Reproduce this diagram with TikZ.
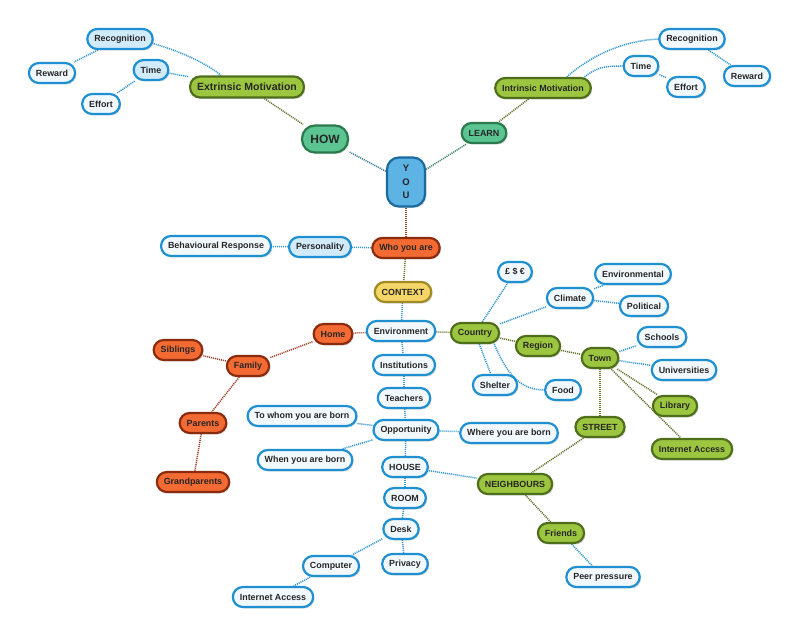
\documentclass[tikz,border=0pt]{standalone}
\usepackage{fontspec}
\setmainfont{Liberation Sans}
\usetikzlibrary{shadows,backgrounds}
\definecolor{bBorder}{HTML}{1E8FD0}
\definecolor{bFill}{HTML}{F2F9FE}
\definecolor{bFillB}{HTML}{D2EBFA}
\definecolor{gFill}{HTML}{9CC63F}
\definecolor{gBorder}{HTML}{4F6E1C}
\definecolor{tFill}{HTML}{5CC491}
\definecolor{tBorder}{HTML}{2B7A4E}
\definecolor{oFill}{HTML}{F46A33}
\definecolor{oBorder}{HTML}{8A2B0E}
\definecolor{yFill}{HTML}{F4D567}
\definecolor{yBorder}{HTML}{A08A22}
\definecolor{uFill}{HTML}{5DB3E4}
\definecolor{uBorder}{HTML}{1B6A9E}
\definecolor{lBlue}{HTML}{3596D0}
\definecolor{lOlive}{HTML}{66742E}
\definecolor{lRed}{HTML}{A0422A}
\definecolor{lTeal}{HTML}{3E8A6A}
\definecolor{lTealB}{HTML}{3F7F9A}
\tikzset{
  base/.style={rectangle, rounded corners=10pt, minimum height=20pt, inner xsep=7pt, inner ysep=0pt,
    line width=2.2pt, font=\fontsize{8.9}{10}\selectfont\bfseries, text=black!85,
    drop shadow={opacity=0.25, shadow xshift=1.5pt, shadow yshift=-1.5pt}},
  bnode/.style={base, draw=bBorder, fill=bFill},
  bnodeB/.style={base, draw=bBorder, fill=bFillB},
  gnode/.style={base, draw=gBorder, fill=gFill},
  tnode/.style={base, draw=tBorder, fill=tFill},
  onode/.style={base, draw=oBorder, fill=oFill},
  ynode/.style={base, draw=yBorder, fill=yFill},
  conn/.style={line width=1.5pt, dash pattern=on 1.1pt off 0.9pt},
  cb/.style={conn, draw=lBlue},
  co/.style={conn, draw=lOlive},
  cr/.style={conn, draw=lRed},
}
\begin{document}
\begin{tikzpicture}[x=1pt,y=-1pt]
\useasboundingbox (0,0) rectangle (800,636);
% top left
\node[bnodeB] (recL) at (120,39) {Recognition};
\node[bnode] (rewL) at (52,73) {Reward};
\node[bnodeB] (timeL) at (151,70) {Time};
\node[bnode] (effL) at (101,104) {Effort};
\node[gnode, font=\fontsize{10.5}{12}\selectfont\bfseries, minimum height=21pt] (extr) at (247,87) {Extrinsic Motivation};
\node[tnode, font=\fontsize{12}{14}\selectfont\bfseries, minimum height=27pt, minimum width=46pt, rounded corners=13pt] (how) at (325,139) {HOW};
% top right
\node[bnode] (recR) at (692,39) {Recognition};
\node[bnode] (timeR) at (641,66) {Time};
\node[bnode] (effR) at (686,87) {Effort};
\node[bnode] (rewR) at (747,76) {Reward};
\node[gnode] (intr) at (543,88) {Intrinsic Motivation};
\node[tnode] (learn) at (484,133) {LEARN};
% you
\node[base, draw=uBorder, fill=uFill, align=center, minimum width=38pt, minimum height=49pt, rounded corners=12pt,
  font=\fontsize{9.5}{13.5}\selectfont\bfseries] (you) at (406,182) {Y\\O\\U};
\node[onode] (who) at (406,248) {Who you are};
\node[bnodeB] (pers) at (320,247) {Personality};
\node[bnode] (behav) at (216,246) {Behavioural Response};
\node[ynode] (ctx) at (403,292) {CONTEXT};
\node[bnode] (env) at (401,331) {Environment};
\node[onode] (home) at (333,334) {Home};
\node[gnode] (country) at (475,333) {Country};
\node[bnode] (money) at (515,272) {£ \$ €};
\node[bnode] (climate) at (570,298) {Climate};
\node[bnode] (envl) at (633,274) {Environmental};
\node[bnode] (polit) at (644,306) {Political};
\node[gnode] (region) at (538,346) {Region};
\node[gnode] (town) at (600,358) {Town};
\node[bnode] (schools) at (662,337) {Schools};
\node[bnode] (univ) at (684,370) {Universities};
\node[bnode] (shelter) at (495,385) {Shelter};
\node[bnode] (food) at (563,390) {Food};
\node[gnode] (library) at (675,406) {Library};
\node[gnode] (street) at (600,427) {STREET};
\node[gnode] (inetG) at (692,449) {Internet Access};
\node[onode] (siblings) at (178,350) {Siblings};
\node[onode] (family) at (248,366) {Family};
\node[onode] (parents) at (203,423) {Parents};
\node[onode] (grand) at (193,482) {Grandparents};
\node[bnode] (inst) at (404,365) {Institutions};
\node[bnode] (teach) at (404,398) {Teachers};
\node[bnode] (opp) at (406,430) {Opportunity};
\node[bnode] (whom) at (302,416) {To whom you are born};
\node[bnode] (where) at (509,433) {Where you are born};
\node[bnode] (when) at (305,460) {When you are born};
\node[bnode] (house) at (405,467) {HOUSE};
\node[bnode] (room) at (405,498) {ROOM};
\node[bnode] (desk) at (401,529) {Desk};
\node[bnode] (computer) at (331,566) {Computer};
\node[bnode] (privacy) at (405,564) {Privacy};
\node[bnode] (inetB) at (273,597) {Internet Access};
\node[gnode] (neigh) at (515,484) {NEIGHBOURS};
\node[gnode] (friends) at (561,533) {Friends};
\node[bnode] (peer) at (603,577) {Peer pressure};
\begin{pgfonlayer}{background}
\draw[cb] (recL.-8) .. controls +(25,7) and +(-14,-12) .. (extr.156);
\draw[cb] (timeL) -- (extr);
\draw[cb] (recL) -- (rewL);
\draw[cb] (timeL) -- (effL);
\draw[co] (extr) -- (how);
\draw[conn, draw=lTealB] (you) -- (how);
\draw[conn, draw=lTeal] (you) -- (learn);
\draw[co] (intr) -- (learn);
\draw[cb] (intr.25) .. controls +(25,-22) and +(-35,2) .. (recR.west);
\draw[cb] (intr.15) .. controls +(12,-9) and +(-20,0) .. (timeR.west);
\draw[cb] (timeR) -- (effR);
\draw[cb] (recR) -- (rewR);
\draw[cr] (you) -- (who);
\draw[cb] (who) -- (pers);
\draw[cb] (pers) -- (behav);
\draw[co] (who) -- (ctx);
\draw[cb] (ctx) -- (env);
\draw[cr] (env) -- (home);
\draw[cr] (home) -- (family);
\draw[cr] (family) -- (siblings);
\draw[cr] (family) -- (parents);
\draw[cr] (parents) -- (grand);
\draw[co] (env) -- (country);
\draw[cb] (country) -- (money);
\draw[cb] (country) -- (climate);
\draw[cb] (climate) -- (envl);
\draw[cb] (climate) -- (polit);
\draw[cb] (country) -- (shelter);
\draw[cb] (country.-30) .. controls +(12,28) and +(-25,0) .. (food.west);
\draw[co] (country) -- (region);
\draw[co] (region) -- (town);
\draw[cb] (town) -- (schools);
\draw[cb] (town) -- (univ);
\draw[co] (town) -- (library);
\draw[co] (town) -- (inetG);
\draw[co] (town) -- (street);
\draw[co] (street) -- (neigh);
\draw[co] (neigh) -- (friends);
\draw[cb] (friends) -- (peer);
\draw[cb] (env) -- (inst);
\draw[cb] (inst) -- (teach);
\draw[cb] (teach) -- (opp);
\draw[cb] (opp) -- (whom);
\draw[cb] (opp) -- (where);
\draw[cb] (opp) -- (when);
\draw[cb] (opp) -- (house);
\draw[cb] (house) -- (room);
\draw[cb] (house) -- (neigh);
\draw[cb] (room) -- (desk);
\draw[cb] (desk) -- (computer);
\draw[cb] (desk) -- (privacy);
\draw[cb] (computer) -- (inetB);
\end{pgfonlayer}
\end{tikzpicture}
\end{document}
